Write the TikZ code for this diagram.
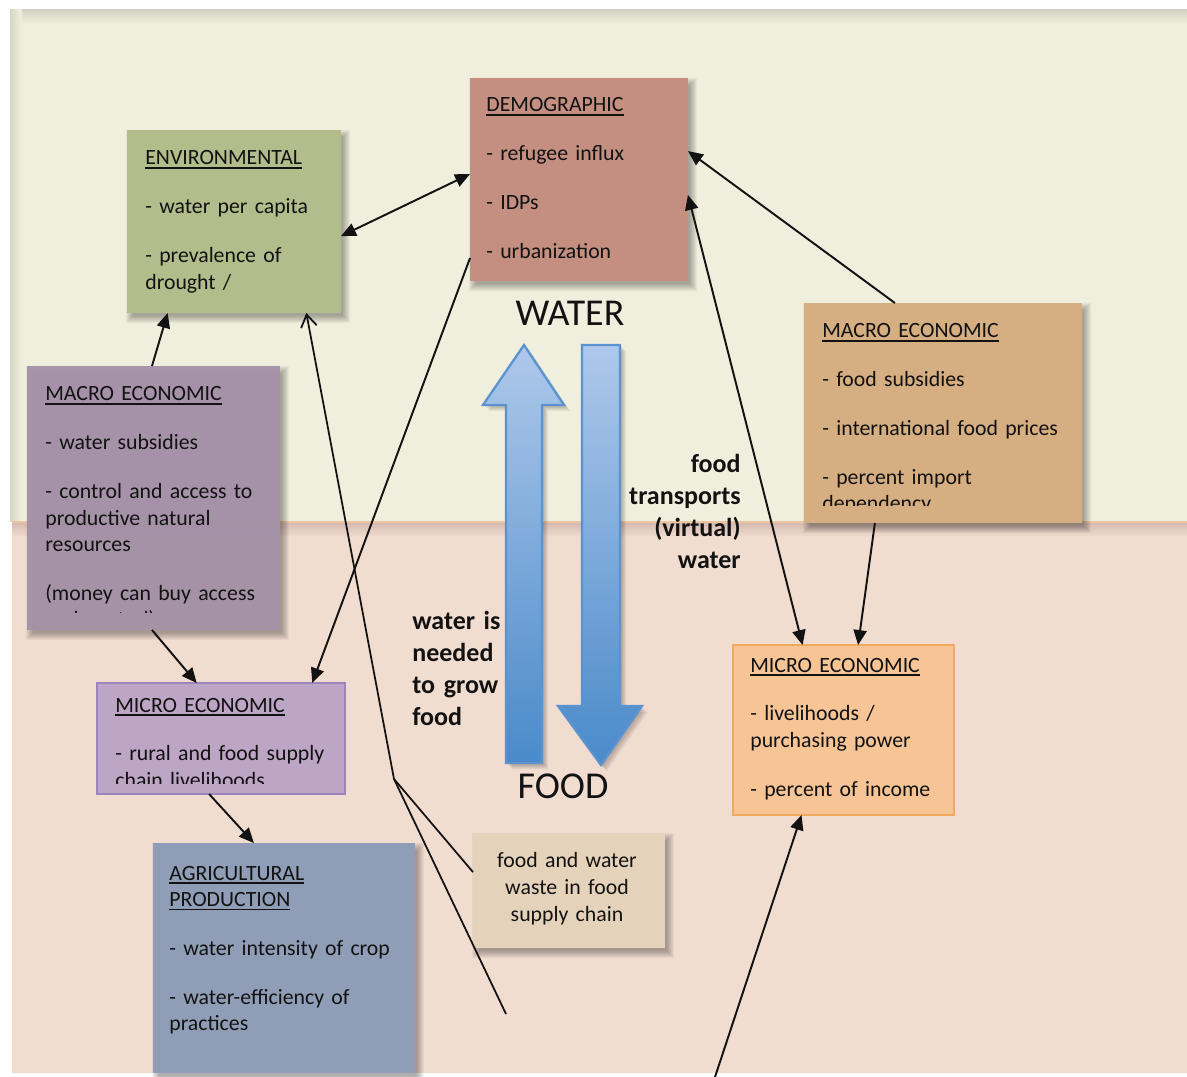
\documentclass[tikz,border=0pt]{standalone}
\usepackage{fontspec}
\setmainfont{Carlito}
\usetikzlibrary{arrows.meta,calc}

\definecolor{creambg}{HTML}{F0EEDD}
\definecolor{pinkbg}{HTML}{F1DCD0}
\definecolor{seam}{HTML}{EDC4A2}
\definecolor{seamshadow}{HTML}{D6BCB0}
\definecolor{demofill}{HTML}{C48F81}
\definecolor{envfill}{HTML}{B3BC8B}
\definecolor{wmacrofill}{HTML}{A592A9}
\definecolor{wmicrofill}{HTML}{BDA5C5}
\definecolor{wmicroedge}{HTML}{9C84BE}
\definecolor{agrifill}{HTML}{8F9EB6}
\definecolor{wastefill}{HTML}{E5D2BB}
\definecolor{fmacrofill}{HTML}{D5AE82}
\definecolor{fmicrofill}{HTML}{F6C495}
\definecolor{fmicroedge}{HTML}{F3A85C}
\definecolor{flowtop}{HTML}{AEC8EA}
\definecolor{flowbot}{HTML}{4A8ACA}
\definecolor{flowedge}{HTML}{5B93D1}
\definecolor{ink}{HTML}{121212}

\pgfdeclarelayer{bands}
\pgfdeclarelayer{shadows}
\pgfsetlayers{bands,shadows,main}

% paragraph gap between list items
\newcommand{\brk}{\\[12.8pt]}
% heading with a firm underline
\newcommand{\hd}[1]{\leavevmode\setbox0\hbox{#1}\rlap{\rule[-2.1pt]{\wd0}{0.8pt}}\box0}
% soft drop shadow below and to the right of a named box
\newcommand{\castshadow}[1]{%
  \foreach \k in {0,...,7}{%
    \fill[black, opacity=0.045] ($(#1.north west)+(6-\k,7-\k)$)
      rectangle ($(#1.south east)+(2+\k,3+\k)$);
  }}

\begin{document}
\begin{tikzpicture}[x=0.02cm, y=-0.02cm,
  >={Triangle[length=8.5pt,width=7.5pt]},
  card/.style={rectangle, inner sep=0pt, outer sep=0pt},
  framed/.style={rectangle, inner sep=0pt, outer sep=0pt, line width=1.2pt},
  body/.style={anchor=base west, inner sep=0pt, text width=6cm, align=left,
    text=ink, font=\fontsize{12.4}{15}\selectfont},
  tag/.style={inner sep=0pt, text width=3.2cm, text=ink,
    font=\fontsize{14.8}{18.2}\selectfont\bfseries},
  pole/.style={anchor=base, inner sep=0pt, text=ink,
    font=\fontsize{21.6}{26}\selectfont},
  link/.style={draw=ink, line width=1.1pt, ->},
  twoway/.style={draw=ink, line width=1.1pt, <->},
  plain/.style={draw=ink, line width=1pt},
  openhead/.style={draw=ink, line width=1pt, line join=round,
    -{Straight Barb[length=7pt,width=9pt]}},
  flow/.style={top color=flowtop, bottom color=flowbot, draw=flowedge,
    line width=1.3pt, line join=miter},
  flowshadow/.style={fill=black, opacity=0.05},
]
\useasboundingbox (0,0) rectangle (1187,1077);

% two background bands: water (top) and food (bottom)
\begin{pgfonlayer}{bands}
  \fill[white] (0,0) rectangle (1187,1077);
  \fill[pinkbg] (12,522) rectangle (1187,1073);
  \shade[top color=seamshadow, bottom color=pinkbg] (12,523) rectangle (1187,537);
  \fill[creambg] (10,10) rectangle (1187,522);
  \shade[top color=creambg!88!black, bottom color=creambg] (10,10) rectangle (1187,24);
  \shade[left color=creambg!90!black, right color=creambg] (10,10) rectangle (22,522);
  \draw[seam, line width=1.2pt] (12,522) -- (1187,522);
\end{pgfonlayer}

% boxes
\node[card, fill=demofill, minimum width=4.36cm, minimum height=4.06cm] (demo) at (579,179.5) {};
\node[card, fill=envfill, minimum width=4.28cm, minimum height=3.66cm] (env) at (234,221.5) {};
\node[card, fill=wmacrofill, fill opacity=0.95, minimum width=5.06cm, minimum height=5.28cm] (wmacro) at (153.5,498) {};
\node[framed, fill=wmicrofill, draw=wmicroedge, minimum width=4.96cm, minimum height=2.22cm] (wmicro) at (221,738.5) {};
\node[card, fill=agrifill, minimum width=5.24cm, minimum height=4.6cm] (agri) at (284,958) {};
\node[card, fill=wastefill, minimum width=3.84cm, minimum height=2.3cm] (waste) at (569,890.5) {};
\node[card, fill=fmacrofill, minimum width=5.56cm, minimum height=4.4cm] (fmacro) at (943,413) {};
\node[framed, fill=fmicrofill, draw=fmicroedge, minimum width=4.42cm, minimum height=3.4cm] (fmicro) at (843.5,730) {};

\begin{pgfonlayer}{shadows}
  \castshadow{demo}
  \castshadow{env}
  \castshadow{wmacro}
  \castshadow{agri}
  \castshadow{waste}
  \castshadow{fmacro}
  \foreach \k in {0,...,4}{%
    \fill[flowshadow, shift={(2+\k,2+\k)}] (506,763) -- (506,405) -- (483,405)
      -- (524,345) -- (564,405) -- (542,405) -- (542,763) -- cycle;
    \fill[flowshadow, shift={(2+\k,2+\k)}] (582,345) -- (620,345) -- (620,706)
      -- (642,706) -- (601,765) -- (558,706) -- (582,706) -- cycle;
  }
\end{pgfonlayer}

% box texts
\node[body] (demoText) at (486,112) {\hd{DEMOGRAPHIC}\brk - refugee influx\brk - IDPs\brk - urbanization};
\node[body] (envText) at (145,165) {\hd{ENVIRONMENTAL}\brk - water per capita\brk - prevalence of\\ drought /};
\begin{scope}
  \clip (27,366) rectangle (280,613);
  \node[body] (wmacroText) at (45,401) {\hd{MACRO ECONOMIC}\brk - water subsidies\brk - control and access to\\ productive natural\\ resources\brk (money can buy access\\ and control)};
\end{scope}
\begin{scope}
  \clip (97,683) rectangle (345,783);
  \node[body] (wmicroText) at (115,712) {\hd{MICRO ECONOMIC}\brk - rural and food supply\\ chain livelihoods};
\end{scope}
\node[body] (agriText) at (169,880) {\hd{AGRICULTURAL}\\ \hd{PRODUCTION}\brk - water intensity of crop\brk - water-efficiency of\\ practices};
\node[anchor=base, inner sep=0pt, text width=3.8cm, align=center, text=ink,
  font=\fontsize{12.4}{15.6}\selectfont] (wasteText) at (567,867) {food and water\\ waste in food\\ supply chain};
\begin{scope}
  \clip (804,303) rectangle (1082,506);
  \node[body] (fmacroText) at (822,338) {\hd{MACRO ECONOMIC}\brk - food subsidies\brk - international food prices\brk - percent import\\ dependency};
\end{scope}
\node[body] (fmicroText) at (750,672) {\hd{MICRO ECONOMIC}\brk - livelihoods /\\ purchasing power\brk - percent of income};

% the water-food exchange
\path[flow] (506,763) -- (506,405) -- (483,405) -- (524,345) -- (564,405)
  -- (542,405) -- (542,763) -- cycle;
\path[flow] (582,345) -- (620,345) -- (620,706) -- (642,706) -- (601,765)
  -- (558,706) -- (582,706) -- cycle;
\node[pole] (water) at (570,326) {WATER};
\node[pole] (food) at (563,798) {FOOD};
\node[tag, anchor=base east, align=right] (virtual) at (741,473) {food\\ transports\\ (virtual)\\ water};
\node[tag, anchor=base west, align=left] (grow) at (412,630) {water is\\ needed\\ to grow\\ food};

% connectors
\coordinate (tail) at (506,1014);
\coordinate (bend) at (394,779);
\coordinate (foot) at (715,1077);

\draw[twoway] ($(env.north east)!0.58!(env.south east)$) -- ($(demo.north west)!0.473!(demo.south west)$);
\draw[link] ($(fmacro.north west)!0.327!(fmacro.north east)$) -- ($(demo.north east)!0.36!(demo.south east)$);
\draw[twoway] ($(demo.north east)!0.576!(demo.south east)$) -- ($(fmicro.north west)!0.315!(fmicro.north east)$);
\draw[link] ($(fmacro.south west)!0.255!(fmacro.south east)$) -- ($(fmicro.north west)!0.566!(fmicro.north east)$);
\draw[link] ($(wmacro.north west)!0.494!(wmacro.north east)$) -- ($(env.south west)!0.19!(env.south east)$);
\draw[openhead] (tail) -- (bend) -- ($(env.south west)!0.838!(env.south east)$);
\draw[plain] ($(waste.north west)!0.34!(waste.south west)$) -- (bend);
\draw[link] ($(demo.north west)!0.887!(demo.south west)$) -- ($(wmicro.north west)!0.868!(wmicro.north east)$);
\draw[link] ($(wmacro.south west)!0.494!(wmacro.south east)$) -- ($(wmicro.north west)!0.402!(wmicro.north east)$);
\draw[link] ($(wmicro.south west)!0.452!(wmicro.south east)$) -- ($(agri.north west)!0.385!(agri.north east)$);
\draw[link] (foot) -- ($(fmicro.south west)!0.31!(fmicro.south east)$);
\end{tikzpicture}
\end{document}
